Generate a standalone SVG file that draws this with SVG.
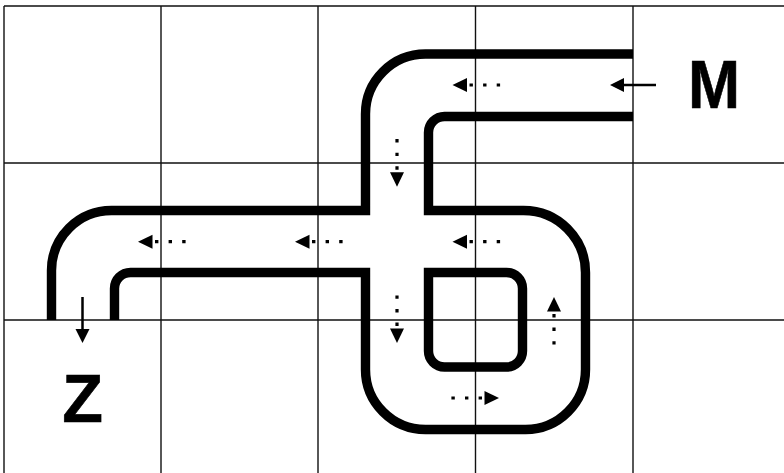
<svg xmlns="http://www.w3.org/2000/svg" width="784" height="473" viewBox="0 0 784 473">
<style>
.grid{stroke:#111;stroke-width:1.4;fill:none}
.pipe{stroke:#000;stroke-width:9.4;fill:none;stroke-linejoin:miter}
.dots{stroke:#000;stroke-width:3.2;stroke-dasharray:3.4 10.2;fill:none}
.solid{stroke:#000;stroke-width:2.5;fill:none}
.head{fill:#000}
.label{font-family:"Liberation Sans",Arial,sans-serif;font-weight:700;font-size:68px;fill:#000;stroke:#000;stroke-width:.6;text-anchor:middle}
</style>
<defs>
<g id="dash-arrow">
<path class="head" d="M0 0L14.5 -7V7Z"/>
<path class="dots" d="M17 0H48"/>
</g>
</defs>
<rect width="784" height="473" fill="#fff"/>
<g id="grid">
<path class="grid" d="M4 6H784M4 163H784M4 320H784M4 6V473M161 6V473M318 6V473M475.5 6V473M633 6V473"/>
</g>
<g id="pipes">
<path class="pipe" d="M633 54H425.5A60 60 0 0 0 365.5 114V210.5H111.5A60 60 0 0 0 51.5 270.5V320"/>
<path class="pipe" d="M633 116.5H444.5A16 16 0 0 0 428.5 132.5V210.5H523.5A62 62 0 0 1 585.5 272.5V369.5A60 60 0 0 1 525.5 429.5H425.5A60 60 0 0 1 365.5 369.5V272.5H130.5A16 16 0 0 0 114.5 288.5V320"/>
<path class="pipe" d="M428.5 272.5H506.5A16 16 0 0 1 522.5 288.5V351A16 16 0 0 1 506.5 367H444.5A16 16 0 0 1 428.5 351Z"/>
</g>
<g id="connectors">
<use href="#dash-arrow" transform="translate(452.5 85)"/>
<use href="#dash-arrow" transform="translate(452.5 241.7)"/>
<use href="#dash-arrow" transform="translate(295 241.7)"/>
<use href="#dash-arrow" transform="translate(138 241.7)"/>
<use href="#dash-arrow" transform="translate(397 186.7) rotate(-90)"/>
<use href="#dash-arrow" transform="translate(397 343) rotate(-90)"/>
<use href="#dash-arrow" transform="translate(554 297) rotate(90)"/>
<use href="#dash-arrow" transform="translate(499 398) rotate(180)"/>
<g id="inlet-arrow">
<path class="solid" d="M656 85H620"/>
<path class="head" d="M610 85L624 78V92Z"/>
</g>
<g id="outlet-arrow">
<path class="solid" d="M82.5 297V333"/>
<path class="head" d="M82.5 343L75.5 329H89.5Z"/>
</g>
</g>
<g id="node-M"><text class="label" transform="translate(714 108) scale(.92 1)">M</text></g>
<g id="node-Z"><text class="label" transform="translate(82.5 422) scale(.98 1)">Z</text></g>
</svg>
